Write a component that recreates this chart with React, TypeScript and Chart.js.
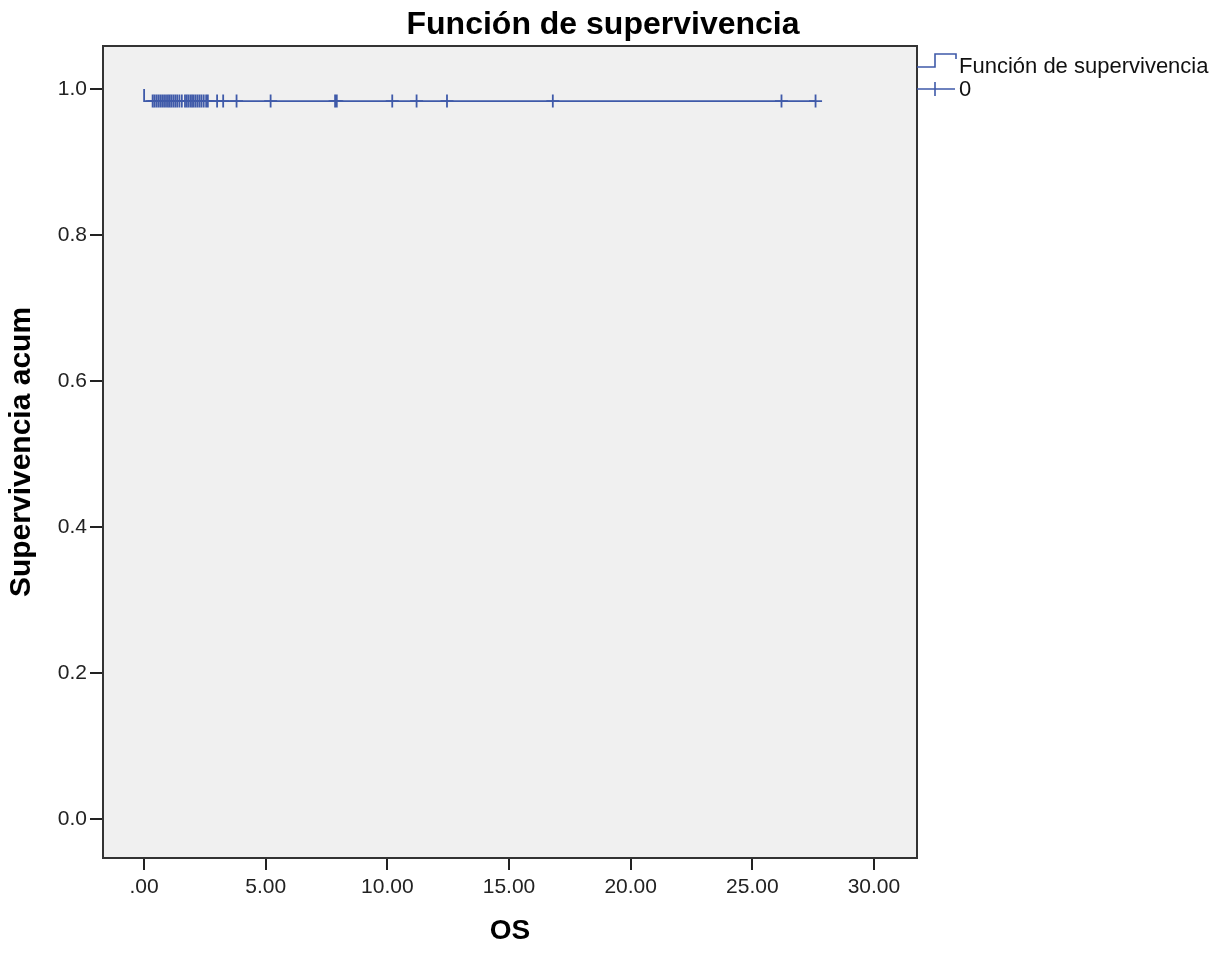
import React, { useEffect, useRef } from "react";
import { Chart, registerables } from "chart.js";

Chart.register(...registerables);

const chartTitle = "Función de supervivencia";
const xAxisTitle = "OS";
const yAxisTitle = "Supervivencia acum";
const legendLabels = ["Función de supervivencia", "0"];

// Kaplan-Meier step curve (time, cumulative survival)
const curveTimes = [0, 0.12, 27.6];
const curveSurvival = [1, 0.9836, 0.9836];

// Censored observation times
const censorTimes = [
  0.35, 0.42, 0.5, 0.58, 0.66, 0.74, 0.82, 0.9, 0.98, 1.05, 1.12, 1.2, 1.28,
  1.36, 1.45, 1.55, 1.68, 1.75, 1.82, 1.9, 1.97, 2.04, 2.12, 2.2, 2.28, 2.36,
  2.45, 2.55, 2.62, 3.0, 3.25, 3.8, 5.2, 7.85, 7.92, 10.2, 11.2, 12.45, 16.8,
  26.2, 27.6,
];

const xTicks = [0, 5, 10, 15, 20, 25, 30];
const yTicks = [0, 0.2, 0.4, 0.6, 0.8, 1.0];

const BLUE = "#3f5aa9";
const FONT = "'Liberation Sans', Arial, sans-serif";

function survivalAt(t: number): number {
  let s = curveSurvival[0];
  for (let i = 0; i < curveTimes.length; i++) {
    if (curveTimes[i] <= t) s = curveSurvival[i];
  }
  return s;
}

const framePlugin = {
  id: "frame",
  beforeDraw(chart: any) {
    const { ctx, chartArea: a } = chart;
    ctx.save();
    ctx.fillStyle = "#ffffff";
    ctx.fillRect(0, 0, chart.width, chart.height);
    ctx.fillStyle = "#f0f0f0";
    ctx.fillRect(a.left, a.top, a.right - a.left, a.bottom - a.top);
    ctx.restore();
  },
  afterDraw(chart: any) {
    const { ctx, chartArea: a } = chart;
    ctx.save();
    ctx.strokeStyle = "#333333";
    ctx.lineWidth = 2;
    ctx.strokeRect(a.left, a.top, a.right - a.left, a.bottom - a.top);

    // Title
    ctx.fillStyle = "#000000";
    ctx.font = `bold 32px ${FONT}`;
    ctx.textAlign = "center";
    ctx.textBaseline = "alphabetic";
    ctx.fillText(chartTitle, 603, 34);

    // Legend
    const lx = a.right;
    ctx.strokeStyle = BLUE;
    ctx.lineWidth = 1.6;
    ctx.beginPath();
    ctx.moveTo(lx, 67);
    ctx.lineTo(lx + 18, 67);
    ctx.lineTo(lx + 18, 54);
    ctx.lineTo(lx + 39, 54);
    ctx.lineTo(lx + 39, 59);
    ctx.stroke();
    ctx.beginPath();
    ctx.moveTo(lx, 89);
    ctx.lineTo(lx + 38, 89);
    ctx.moveTo(lx + 18, 82);
    ctx.lineTo(lx + 18, 96);
    ctx.stroke();

    ctx.fillStyle = "#111111";
    ctx.font = `22px ${FONT}`;
    ctx.textAlign = "left";
    ctx.fillText(legendLabels[0], lx + 42, 73);
    ctx.fillText(legendLabels[1], lx + 42, 96);
    ctx.restore();
  },
};

export default function App() {
  const canvasRef = useRef<HTMLCanvasElement | null>(null);

  useEffect(() => {
    const canvas = canvasRef.current;
    if (!canvas) return;
    const chart = new Chart(canvas, {
      type: "scatter",
      data: {
        datasets: [
          {
            label: legendLabels[0],
            data: curveTimes.map((t, i) => ({ x: t, y: curveSurvival[i] })),
            showLine: true,
            stepped: "after",
            borderColor: BLUE,
            borderWidth: 1.8,
            pointRadius: 0,
            fill: false,
          },
          {
            label: legendLabels[1],
            data: censorTimes.map((t) => ({ x: t, y: survivalAt(t) })),
            showLine: false,
            pointStyle: "cross",
            pointRadius: 6.5,
            borderColor: BLUE,
            borderWidth: 1.8,
            backgroundColor: BLUE,
          },
        ],
      },
      plugins: [framePlugin],
      options: {
        animation: false,
        responsive: false,
        maintainAspectRatio: false,
        devicePixelRatio: 1,
        layout: { padding: { top: 46, right: 308, left: 0, bottom: 0 } },
        plugins: {
          legend: { display: false },
          title: { display: false },
          tooltip: { enabled: false },
        },
        scales: {
          x: {
            type: "linear",
            min: -1.69,
            max: 31.77,
            afterBuildTicks: (scale: any) => {
              scale.ticks = xTicks.map((v) => ({ value: v }));
            },
            afterFit: (scale: any) => {
              scale.height = 95;
            },
            border: { display: false },
            grid: {
              drawOnChartArea: false,
              drawTicks: true,
              tickLength: 12,
              color: "#222222",
              lineWidth: 2,
            },
            ticks: {
              padding: 5,
              color: "#222222",
              font: { family: FONT, size: 21 },
              maxRotation: 0,
              callback: (v: any) => (Number(v) === 0 ? ".00" : Number(v).toFixed(2)),
            },
            title: {
              display: true,
              text: xAxisTitle,
              color: "#000000",
              font: { family: FONT, size: 28, weight: "bold" },
              padding: { top: 0, bottom: 5 },
            },
          },
          y: {
            type: "linear",
            min: -0.053,
            max: 1.059,
            afterBuildTicks: (scale: any) => {
              scale.ticks = yTicks.map((v) => ({ value: v }));
            },
            afterFit: (scale: any) => {
              scale.width = 103;
            },
            border: { display: false },
            grid: {
              drawOnChartArea: false,
              drawTicks: true,
              tickLength: 13,
              color: "#222222",
              lineWidth: 2,
            },
            ticks: {
              padding: 3,
              color: "#222222",
              font: { family: FONT, size: 21 },
              callback: (v: any) => Number(v).toFixed(1),
            },
            title: {
              display: true,
              text: yAxisTitle,
              color: "#000000",
              font: { family: FONT, size: 30, weight: "bold" },
              padding: { top: 4, bottom: 0 },
            },
          },
        },
      },
    } as any);
    return () => chart.destroy();
  }, []);

  return (
    <div style={{ position: "fixed", left: 0, top: 0, width: 1225, height: 953, background: "#fff" }}>
      <canvas ref={canvasRef} width={1225} height={953} style={{ display: "block" }} />
    </div>
  );
}
